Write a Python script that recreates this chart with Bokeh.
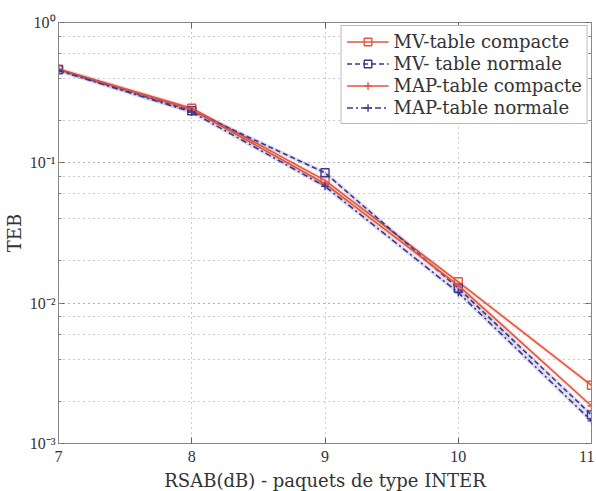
from bokeh.plotting import figure
from bokeh.embed import file_html
from bokeh.resources import INLINE
from bokeh.models import (Range1d, LinearAxis, LogAxis, FixedTicker, CustomJSTickFormatter,
                          Legend, LegendItem, LogTicker)

snr = [7, 8, 9, 10, 11]
mv_compact = [0.465, 0.245, 0.075, 0.0142, 0.0026]
mv_normal = [0.46, 0.235, 0.085, 0.0128, 0.0016]
map_compact = [0.465, 0.240, 0.071, 0.0134, 0.00185]
map_normal = [0.455, 0.230, 0.068, 0.0119, 0.00145]
x_ticks = [7, 8, 9, 10, 11]

RED = "#e5553c"
BLUE = "#3d3590"
FONT = "DejaVu Serif"
TFONT = "Liberation Serif"

p = figure(frame_width=533, frame_height=421, x_axis_type="linear", y_axis_type="log",
           x_range=Range1d(7, 11), y_range=Range1d(1e-3, 1),
           output_backend="svg", toolbar_location=None,
           min_border_left=0, min_border_right=3, min_border_top=22, min_border_bottom=0)
p.outline_line_color = "#888888"
p.background_fill_color = "white"

fmt = CustomJSTickFormatter(code="""
const sup = {'0':'\u2070','1':'\u00b9','2':'\u00b2','3':'\u00b3','-':'\u207b'};
const e = Math.round(Math.log10(tick));
return '10' + String(e).split('').map(c => sup[c]).join('');
""")

p.xaxis.ticker = FixedTicker(ticks=x_ticks)
p.yaxis.ticker = LogTicker(desired_num_ticks=4)
p.yaxis.formatter = fmt
for ax in [p.xaxis[0], p.yaxis[0]]:
    ax.axis_line_color = "#888888"
    ax.major_tick_in = 6
    ax.major_tick_out = 0
    ax.minor_tick_in = 3
    ax.minor_tick_out = 0
    ax.major_tick_line_color = "#666666"
    ax.minor_tick_line_color = "#888888"
    ax.major_label_text_font = TFONT
    ax.major_label_text_font_size = "16px"
    ax.major_label_text_color = "#333333"
    ax.axis_label_text_font = FONT
    ax.axis_label_text_font_style = "normal"
    ax.axis_label_text_font_size = "18px"
    ax.axis_label_text_color = "#333333"
p.xaxis.axis_label = "RSAB(dB) - paquets de type INTER"
p.yaxis.axis_label = "TEB"
p.xaxis.axis_label_standoff = 5
p.yaxis.axis_label_standoff = 2
p.xaxis.major_label_standoff = 7
p.yaxis.major_label_standoff = 3

# box axes (ticks only)
top = LinearAxis(ticker=FixedTicker(ticks=x_ticks))
right = LogAxis(ticker=LogTicker(desired_num_ticks=4))
for ax in [top, right]:
    ax.axis_line_color = "#888888"
    ax.major_tick_in = 6
    ax.major_tick_out = 0
    ax.minor_tick_in = 3
    ax.minor_tick_out = 0
    ax.major_tick_line_color = "#666666"
    ax.minor_tick_line_color = "#888888"
    ax.major_label_standoff = 0
    ax.major_label_text_font_size = "1px"
    ax.major_label_text_alpha = 0
p.add_layout(top, "above")
p.add_layout(right, "right")

p.xgrid.grid_line_color = "#9a9a9a"
p.xgrid.grid_line_dash = "1 4"
p.ygrid.grid_line_color = "#9a9a9a"
p.ygrid.grid_line_dash = "1 4"
p.ygrid.minor_grid_line_color = "#9a9a9a"
p.ygrid.minor_grid_line_dash = "1 4"

series = [
    ("MV-table compacte", mv_compact, RED, "solid", "square"),
    ("MV- table normale", mv_normal, BLUE, "5 3", "square"),
    ("MAP-table compacte", map_compact, RED, "solid", "cross"),
    ("MAP-table normale", map_normal, BLUE, "6 3 2 3", "cross"),
]
items = []
for label, ys, col, dash, mk in series:
    p.line(snr, ys, line_color=col, line_width=4, line_alpha=0.16)
    ln = p.line(snr, ys, line_color=col, line_width=1.6, line_dash=dash)
    sc = p.scatter(snr, ys, marker=mk, size=8, line_color=col, fill_color=None, line_width=1.4)
    items.append(LegendItem(label=label, renderers=[ln, sc]))

legend = Legend(items=items, location="top_right")
legend.label_text_font = FONT
legend.label_text_font_size = "18px"
legend.label_text_color = "#333333"
legend.border_line_color = "#777777"
legend.border_line_width = 1
legend.glyph_width = 42
legend.label_height = 19
legend.glyph_height = 19
legend.spacing = 1
legend.padding = 5
legend.margin = 3
legend.background_fill_alpha = 1
p.add_layout(legend)

open("out.html", "w").write(file_html(p, INLINE))
